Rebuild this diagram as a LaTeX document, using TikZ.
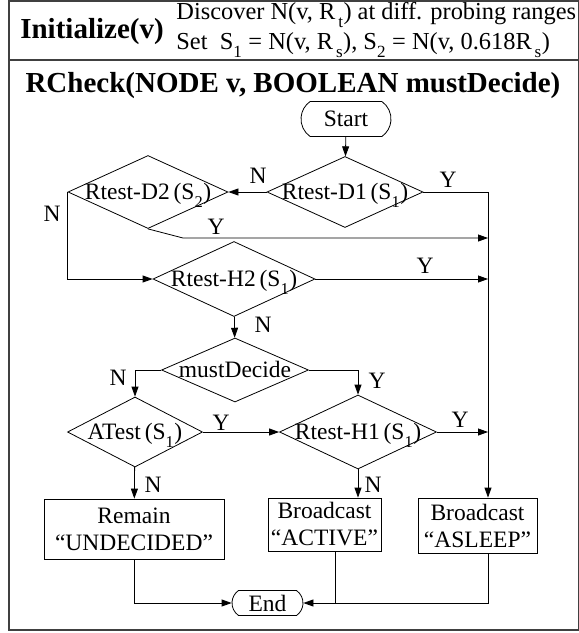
\documentclass[tikz,border=0pt]{standalone}
\usepackage{fontspec}
\setmainfont{Liberation Serif}
\usepackage{tikz}
\usetikzlibrary{shapes.geometric}
\usetikzlibrary{shapes.misc}
\usetikzlibrary{arrows.meta}
\usetikzlibrary{positioning}

\newcommand{\dtxt}[1]{\smash{\makebox[0pt]{\raisebox{-0.3em}{#1}}}}
\newcommand{\sbs}[1]{\raisebox{-0.2em}{\textsubscript{#1}}}

\begin{document}
\begin{tikzpicture}[x=1pt,y=-1pt,line width=0.8pt,
  every node/.style={font=\fontsize{23.5}{27}\selectfont,inner sep=0pt},
  test/.style args={#1x#2}{draw,diamond,minimum width=#1pt,minimum height=#2pt},
  term/.style args={#1x#2}{draw,rounded rectangle,rounded rectangle arc length=110,minimum width=#1pt,minimum height=#2pt},
  act/.style args={#1x#2}{draw,rectangle,align=center,minimum width=#1pt,minimum height=#2pt},
  flow/.style={-{Triangle[length=10pt,width=7pt]}}]
  \useasboundingbox (0,0) rectangle (579,633);
  \draw[line width=1.2pt,black!75](9,1) rectangle (578.5,630);
  \draw[line width=1.2pt,black!75](9,60)--(578.5,60);

  \node (init) at (92,32)[font=\fontsize{29}{31}\selectfont\bfseries]{Initialize(v)};
  \node (disc) at (176,15)[anchor=west,font=\fontsize{24.4}{26}\selectfont]{Discover N(v, R\sbs{\,t}) at diff. probing ranges};
  \node (sets) at (176,45)[anchor=west,font=\fontsize{24.4}{26}\selectfont]{Set~~S\sbs{1} = N(v, R\sbs{\,s}), S\sbs{2} = N(v, 0.618R\sbs{\,s})};
  \node (title) at (293,86)[font=\fontsize{29}{31}\selectfont\bfseries]{RCheck(NODE v, BOOLEAN mustDecide)};

  \node (start) at (346,119)[term=90x35]{Start};
  \node (d1) at (345,192)[test=156x71]{\dtxt{Rtest-D1\,(S\sbs{1})}};
  \node (d2) at (148,192)[test=160x73]{\dtxt{Rtest-D2\,(S\sbs{2})}};
  \node (h2) at (234,279)[test=162x75]{\dtxt{Rtest-H2\,(S\sbs{1})}};
  \node (must) at (235,370)[test=147x64]{\dtxt{mustDecide}};
  \node (atest) at (135,432)[test=135x70]{\dtxt{ATest\,(S\sbs{1})}};
  \node (h1) at (358,432)[test=157x74]{\dtxt{Rtest-H1\,(S\sbs{1})}};

  \node (undec) at (134,529)[act=180x60]{Remain\\“UNDECIDED”};
  \node (active) at (324.5,524.5)[act=113x53]{Broadcast\\“ACTIVE”};
  \node (asleep) at (477.5,525.5)[act=119x55]{Broadcast\\“ASLEEP”};
  \node (end) at (267.5,603)[term=71x25]{End};

  \coordinate (rc) at (488,0);
  \coordinate (bend) at (183,238);
  \coordinate (jt) at (335,0);

  \node (n1) at (258,176){N};
  \node (y1) at (448,180){Y};
  \node (n2) at (52,214){N};
  \node (y2) at (216,227){Y};
  \node (y3) at (425,266){Y};
  \node (n3) at (263,325){N};
  \node (n4) at (118,378){N};
  \node (y4) at (377,381){Y};
  \node (y5) at (221,423){Y};
  \node (y6) at (460,420){Y};
  \node (n5) at (153,485){N};
  \node (n6) at (373,485){N};

  \draw[flow](start)--(d1);
  \draw[flow](d1.west)--(d2.east);
  \draw[flow](d1.east)-|(asleep.north -| rc);
  \draw[flow](d2.south)--(bend)--(bend -| rc);
  \draw[flow](d2.west)|-(h2.west);
  \draw[flow](h2.east)--(h2.east -| rc);
  \draw[flow](h2)--(must);
  \draw[flow](must.west)-|(atest.north);
  \draw[flow](must.east)-|(h1.north);
  \draw[flow](atest.east)--(h1.west);
  \draw[flow](h1.east)--(h1.east -| rc);
  \draw[flow](atest)--(undec);
  \draw[flow](h1.south)--(h1.south |- active.north);
  \draw[flow](undec.south)|-(end.west);
  \draw(active.south -| jt)--(jt |- end);
  \draw[flow](asleep.south -| rc)|-(end.east);
\end{tikzpicture}
\end{document}
